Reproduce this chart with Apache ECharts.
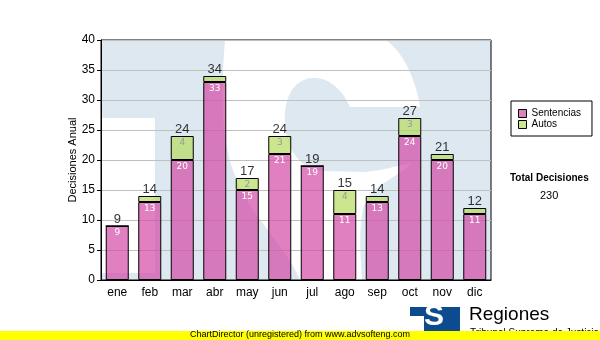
<!DOCTYPE html>
<html>
<head>
<meta charset="utf-8">
<script src="https://cdn.jsdelivr.net/npm/echarts@6/dist/echarts.min.js"></script>
<style>
  html, body { margin: 0; padding: 0; background: #fff; }
  #chart { width: 600px; height: 340px; }
</style>
</head>
<body>
<div id="chart"></div>
<script>
// Decisiones por mes: sentencias y autos
var months = ['ene', 'feb', 'mar', 'abr', 'may', 'jun', 'jul', 'ago', 'sep', 'oct', 'nov', 'dic'];
var sentencias = [9, 13, 20, 33, 15, 21, 19, 11, 13, 24, 20, 11];
var autos = [0, 1, 4, 1, 2, 3, 0, 4, 1, 3, 1, 1];
var yTicks = { min: 0, max: 40, interval: 5 };

var totals = months.map(function (m, i) { return sentencias[i] + autos[i]; });
var grandTotal = totals.reduce(function (a, b) { return a + b; }, 0);

// Turn a list of line/cubic segments into polygon points (for the watermark "S")
function outline(start, segs) {
  var pts = [start.slice()];
  var cur = start.slice();
  segs.forEach(function (s) {
    if (s.length === 2) { pts.push(s.slice()); cur = s.slice(); return; }
    var p1 = s[0], p2 = s[1], p3 = s[2];
    for (var k = 1; k <= 16; k++) {
      var t = k / 16, u = 1 - t;
      pts.push([
        u * u * u * cur[0] + 3 * u * u * t * p1[0] + 3 * u * t * t * p2[0] + t * t * t * p3[0],
        u * u * u * cur[1] + 3 * u * u * t * p1[1] + 3 * u * t * t * p2[1] + t * t * t * p3[1]
      ]);
    }
    cur = p3.slice();
  });
  return pts;
}

var sShape = outline([225, 40], [
  [385, 40],
  [[400, 48], [415, 75], [420, 107]],
  [350, 107],
  [[340, 85], [325, 77], [312, 78]],
  [[292, 80], [283, 100], [285, 125]],
  [[287, 150], [300, 168], [320, 171]],
  [365, 172],
  [[385, 170], [400, 165], [412, 163]],
  [[400, 175], [375, 185], [366, 200]],
  [[358, 220], [360, 250], [362, 280]],
  [300, 280],
  [[285, 245], [250, 215], [236, 178]],
  [[222, 145], [220, 100], [225, 40]]
]);

var chart = echarts.init(document.getElementById('chart'), null, { renderer: 'canvas' });

var plot = { left: 101, top: 40, right: 491, bottom: 280 };

chart.setOption({
  animation: false,
  backgroundColor: '#ffffff',
  grid: {
    left: plot.left, top: plot.top,
    width: plot.right - plot.left, height: plot.bottom - plot.top,
    show: true, borderColor: '#000', borderWidth: 1, backgroundColor: 'transparent'
  },
  legend: {
    data: ['Sentencias', 'Autos'],
    orient: 'vertical',
    left: 511, top: 101,
    padding: [7, 11, 6, 7],
    itemGap: 0,
    itemWidth: 8, itemHeight: 8, itemTextGap: 2,
    icon: 'rect',
    borderColor: '#000', borderWidth: 1, backgroundColor: '#fff',
    itemStyle: { borderColor: '#000', borderWidth: 1 },
    textStyle: { fontFamily: 'Liberation Sans', fontSize: 10, color: '#000', lineHeight: 11 }
  },
  xAxis: {
    type: 'category',
    data: months,
    axisLine: { lineStyle: { color: '#000', width: 1 } },
    axisTick: { alignWithLabel: true, length: 4, lineStyle: { color: '#000' } },
    axisLabel: { margin: 7, color: '#000', fontFamily: 'Liberation Sans', fontSize: 12 }
  },
  yAxis: {
    type: 'value',
    min: yTicks.min, max: yTicks.max, interval: yTicks.interval,
    name: 'Decisiones Anual',
    nameLocation: 'middle', nameGap: 23, nameRotate: 90,
    nameMoveOverlap: false,
    nameTextStyle: { fontFamily: 'Liberation Sans', fontSize: 11, color: '#000' },
    axisLine: { show: true, lineStyle: { color: '#000' } },
    axisTick: { show: true, length: 4, lineStyle: { color: '#000' } },
    axisLabel: { margin: 6, color: '#000', fontFamily: 'Liberation Sans', fontSize: 12 },
    splitLine: { lineStyle: { color: '#c0c0c0', width: 1 } }
  },
  series: [
    {
      name: 'Sentencias', type: 'bar', stack: 'dec', barWidth: 23,
      data: sentencias,
      itemStyle: { color: 'rgba(211,74,165,0.7)', borderColor: '#000', borderWidth: 1 },
      label: {
        show: true, position: 'insideTop', distance: 2,
        color: '#ffffff', fontFamily: 'DejaVu Sans', fontSize: 9
      }
    },
    {
      name: 'Autos', type: 'bar', stack: 'dec', barWidth: 23,
      data: autos,
      itemStyle: { color: 'rgba(182,219,96,0.7)', borderColor: '#000', borderWidth: 1 },
      label: {
        show: true, position: 'insideTop', distance: 2,
        color: '#999999', fontFamily: 'DejaVu Sans', fontSize: 9,
        formatter: function (p) { return p.value >= 2 ? String(p.value) : ''; }
      }
    },
    {
      name: 'Total', type: 'scatter', data: totals,
      symbolSize: 1, itemStyle: { color: 'rgba(0,0,0,0)' },
      silent: true,
      label: {
        show: true, position: 'top', distance: 0,
        color: '#000', fontFamily: 'Liberation Sans', fontSize: 13
      }
    }
  ],
  graphic: [
    // watermark logo behind the plot
    { type: 'rect', z: -2, silent: true,
      shape: { x: plot.left, y: plot.top, width: plot.right - plot.left, height: plot.bottom - plot.top },
      style: { fill: '#dee8f1' } },
    { type: 'rect', z: -1, silent: true,
      shape: { x: plot.left, y: 118, width: 54, height: 155 },
      style: { fill: '#ffffff' } },
    { type: 'polygon', z: -1, silent: true,
      shape: { points: sShape },
      style: { fill: '#ffffff' } },
    // total block
    { type: 'text', left: 510, top: 173,
      style: { text: 'Total Decisiones', fontFamily: 'Liberation Sans', fontWeight: 'bold', fontSize: 10, fill: '#000' } },
    { type: 'text', left: 540, top: 190,
      style: { text: String(grandTotal), fontFamily: 'Liberation Sans', fontSize: 11, fill: '#000' } },
    // bottom logo
    { type: 'rect', left: 410, top: 307, z: 5,
      shape: { width: 50, height: 26 }, style: { fill: '#0d4a8e' } },
    { type: 'rect', left: 410, top: 316, z: 6,
      shape: { width: 14, height: 17 }, style: { fill: '#ffffff' } },
    { type: 'text', left: 424, top: 302, z: 7,
      style: { text: 'S', fontFamily: 'Liberation Sans', fontWeight: 'bold', fontSize: 30, fill: '#ffffff' } },
    { type: 'text', left: 469, top: 305, z: 5,
      style: { text: 'Regiones', fontFamily: 'Liberation Sans', fontSize: 19, fill: '#000' } },
    { type: 'text', left: 470, top: 328, z: 5,
      style: { text: 'Tribunal Supremo de Justicia', fontFamily: 'Liberation Sans', fontSize: 10, fill: '#000' } },
    // footer band
    { type: 'rect', left: 0, top: 331, z: 10,
      shape: { width: 600, height: 9 }, style: { fill: '#ffff00' } },
    { type: 'text', left: 190, top: 330, z: 11,
      style: { text: 'ChartDirector (unregistered) from www.advsofteng.com', fontFamily: 'Liberation Sans', fontSize: 9, fill: '#000' } }
  ]
});
</script>
</body>
</html>
